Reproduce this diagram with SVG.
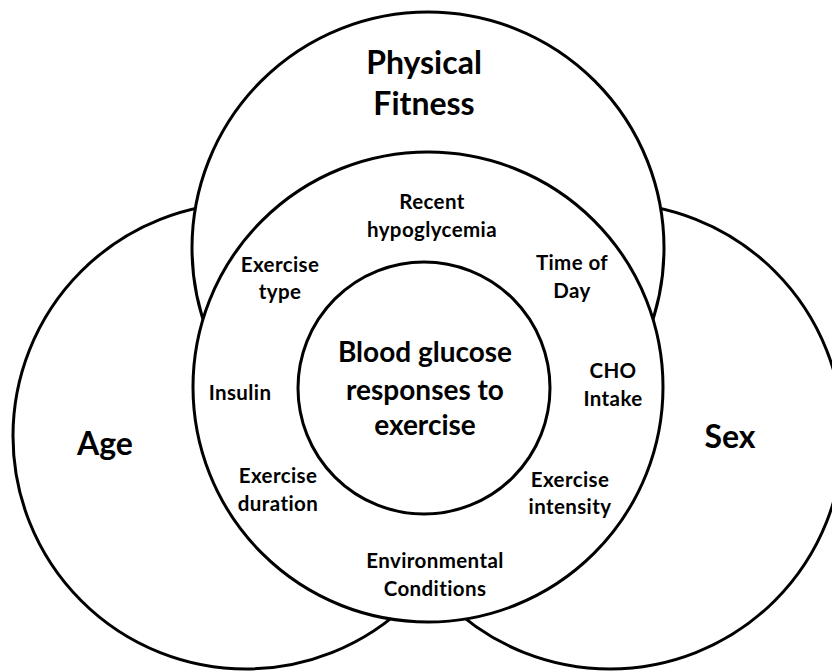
<svg xmlns="http://www.w3.org/2000/svg" width="832" height="672" viewBox="0 0 832 672">
<style>
.c{fill:#fff;stroke:#000;stroke-width:3}
text{font-family:Lato,"Open Sans","Liberation Sans",sans-serif;font-weight:bold;fill:#000;text-anchor:middle}
.big{font-size:32px}
.mid{font-size:28px}
.sm{font-size:20.5px;letter-spacing:0.4px}
</style>
<rect width="832" height="672" fill="#fff"/>
<g id="age">
<circle class="c" cx="246" cy="436" r="233"/>
<text class="big" x="105" y="455">Age</text>
</g>
<g id="sex">
<circle class="c" cx="610" cy="436" r="233"/>
<text class="big" x="730" y="448">Sex</text>
</g>
<g id="fitness">
<circle class="c" cx="428" cy="248" r="236"/>
<text class="big" x="424" y="74">Physical</text>
<text class="big" x="424" y="115">Fitness</text>
</g>
<g id="factors">
<circle class="c" cx="428" cy="387" r="235"/>
<text class="sm" x="432" y="209">Recent</text>
<text class="sm" x="432" y="237">hypoglycemia</text>
<text class="sm" x="280" y="272">Exercise</text>
<text class="sm" x="280" y="299">type</text>
<text class="sm" x="572" y="270">Time of</text>
<text class="sm" x="572" y="298">Day</text>
<text class="sm" x="240" y="400">Insulin</text>
<text class="sm" x="613" y="378">CHO</text>
<text class="sm" x="613" y="406">Intake</text>
<text class="sm" x="278" y="483">Exercise</text>
<text class="sm" x="278" y="511">duration</text>
<text class="sm" x="570" y="487">Exercise</text>
<text class="sm" x="570" y="514">intensity</text>
<text class="sm" x="435" y="568">Environmental</text>
<text class="sm" x="435" y="596">Conditions</text>
</g>
<g id="center">
<circle class="c" cx="424" cy="388" r="126"/>
<text class="mid" x="425" y="362">Blood glucose</text>
<text class="mid" x="425" y="400">responses to</text>
<text class="mid" x="425" y="435">exercise</text>
</g>
<g id="connectors"></g>
</svg>
